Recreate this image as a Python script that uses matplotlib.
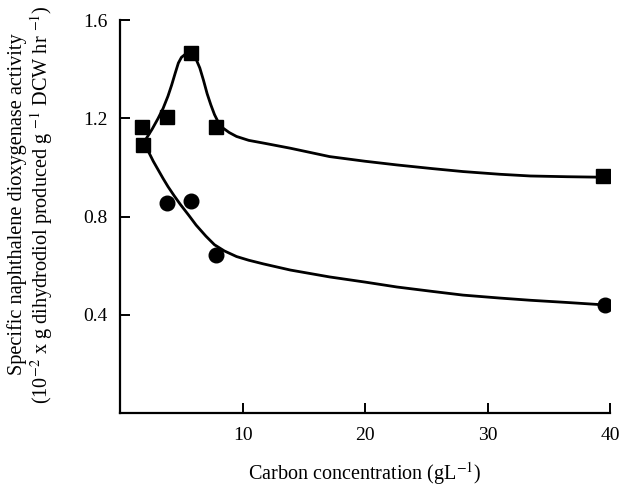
import matplotlib
matplotlib.use("Agg")
import matplotlib.pyplot as plt

plt.rcParams['font.family'] = ['Liberation Serif', 'DejaVu Serif']
plt.rcParams['mathtext.fontset'] = 'stix'

square_x = [1.8, 1.9, 3.8, 5.8, 7.8, 39.4]
square_y = [1.165, 1.09, 1.205, 1.465, 1.165, 0.965]
circle_x = [3.8, 5.8, 7.8, 39.6]
circle_y = [0.855, 0.865, 0.645, 0.44]

# fitted curves
upper_x = [2.1, 2.6, 3.1, 3.5, 3.9, 4.2, 4.5, 4.75, 5.0, 5.3, 5.6, 5.9, 6.2,
           6.5, 6.8, 7.1, 7.4, 7.7, 8.0, 8.4, 8.9, 9.5, 10.5, 11.7, 13.9,
           17.1, 20.0, 22.6, 25.5, 28.0, 31.0, 33.5, 36.5, 39.4]
upper_y = [1.115, 1.155, 1.200, 1.240, 1.290, 1.335, 1.385, 1.425, 1.448,
           1.460, 1.465, 1.458, 1.440, 1.405, 1.355, 1.300, 1.255, 1.215,
           1.185, 1.160, 1.142, 1.126, 1.110, 1.099, 1.078, 1.044, 1.025,
           1.010, 0.995, 0.983, 0.972, 0.965, 0.962, 0.960]
lower_x = [1.9, 2.3, 2.7, 3.1, 3.5, 3.9, 4.4, 4.9, 5.6, 6.2, 7.0, 7.7, 8.5,
           9.5, 10.5, 11.7, 13.9, 17.1, 20.0, 22.6, 25.5, 28.0, 31.0, 33.5,
           36.5, 39.6]
lower_y = [1.10, 1.065, 1.025, 0.99, 0.955, 0.922, 0.885, 0.85, 0.805, 0.765,
           0.72, 0.685, 0.66, 0.637, 0.622, 0.607, 0.582, 0.554, 0.533, 0.513,
           0.495, 0.480, 0.468, 0.459, 0.450, 0.440]

x_ticks = [10, 20, 30, 40]
y_ticks = [0.4, 0.8, 1.2, 1.6]

fig = plt.figure(figsize=(6.34, 4.86), dpi=100)
ax = fig.add_axes([0.1896, 0.1502, 0.7725, 0.8086])

ax.plot(upper_x, upper_y, color='black', lw=2.0, solid_capstyle='round')
ax.plot(lower_x, lower_y, color='black', lw=2.0, solid_capstyle='round')
ax.plot(square_x, square_y, 's', color='black', ms=10, ls='none')
ax.plot(circle_x, circle_y, 'o', color='black', ms=10.5, ls='none')

ax.set_xlim(0, 40)
ax.set_ylim(0, 1.6)
ax.set_xticks(x_ticks)
ax.set_yticks(y_ticks)
ax.set_xticklabels([str(t) for t in x_ticks])
ax.set_yticklabels(['%.1f' % t for t in y_ticks])

for side in ['top', 'right']:
    ax.spines[side].set_visible(False)
for side in ['left', 'bottom']:
    ax.spines[side].set_linewidth(1.6)

ax.tick_params(direction='in', length=7, width=1.4, labelsize=14)
ax.tick_params(axis='x', pad=10)
ax.tick_params(axis='y', pad=9)

ax.set_xlabel('Carbon concentration (gL$^{-1}$)', fontsize=14.5, labelpad=12)
fig.text(0.049, 0.58,
         'Specific naphthalene dioxygenase activity\n'
         '(10$^{-2}$ x g dihydrodiol produced g $^{-1}$ DCW hr $^{-1}$)',
         rotation=90, ha='center', va='center', fontsize=14.6,
         multialignment='center', linespacing=1.1)

fig.savefig('out.png', dpi=100)
